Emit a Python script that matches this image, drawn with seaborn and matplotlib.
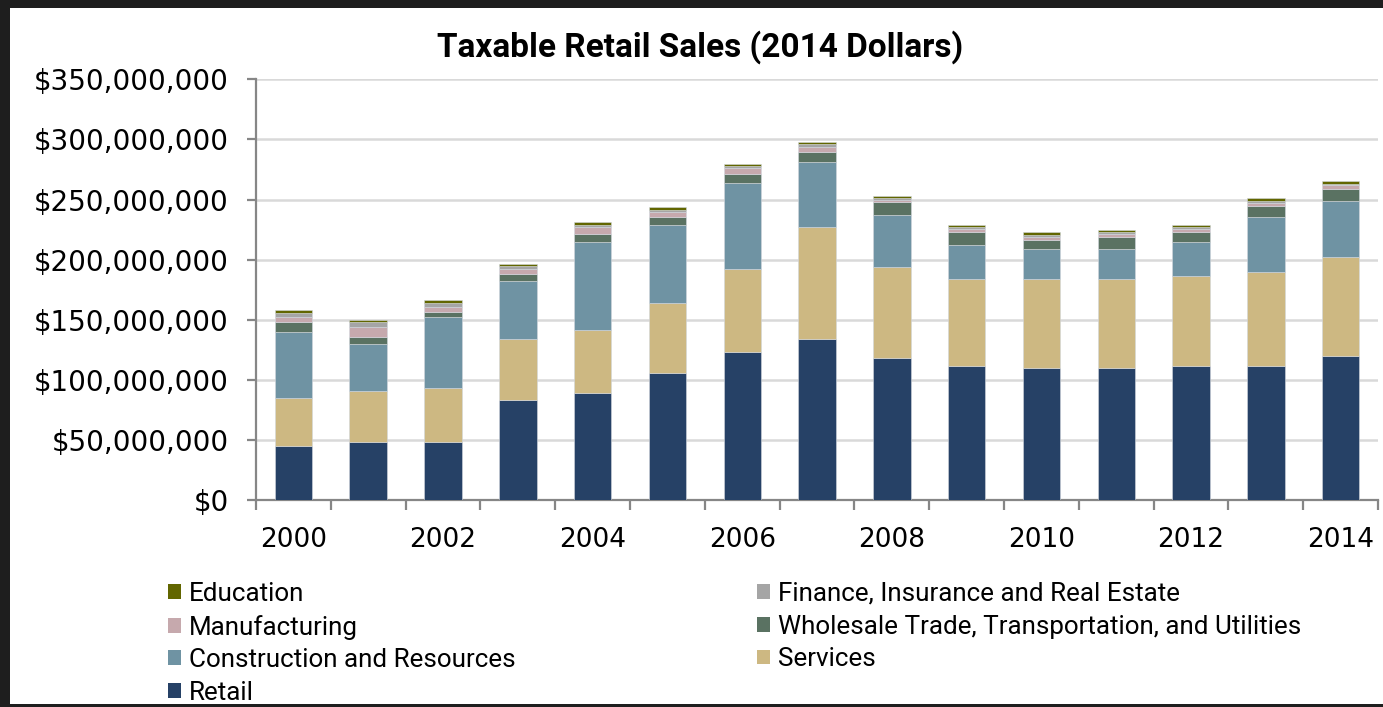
import numpy as np
import pandas as pd
import matplotlib
matplotlib.use("Agg")
import matplotlib.pyplot as plt
import seaborn as sns
from matplotlib.patches import Rectangle, Patch
from matplotlib.ticker import FuncFormatter, MultipleLocator, FixedLocator

# values in millions of 2014 dollars
years = [str(y) for y in range(2000, 2015)]
retail = [45.0, 48.5, 48.5, 83.2, 89.3, 105.4, 123.4, 133.7, 117.9, 111.7, 109.6, 109.6, 111.7, 111.7, 119.8]
services = [40.1, 42.5, 44.9, 50.5, 52.4, 58.8, 69.0, 93.4, 76.2, 72.2, 74.3, 74.3, 74.9, 78.3, 82.4]
construction = [54.9, 38.5, 58.6, 48.8, 73.2, 64.8, 71.1, 54.4, 43.3, 28.5, 24.9, 24.9, 28.3, 45.5, 46.6]
wholesale = [7.8, 6.1, 4.2, 5.5, 6.1, 6.2, 8.0, 8.3, 10.3, 10.6, 7.8, 10.0, 8.1, 9.4, 10.2]
manufacturing = [4.2, 8.1, 4.1, 4.4, 6.4, 4.7, 4.5, 4.2, 1.9, 2.2, 2.2, 2.5, 2.2, 2.2, 2.8]
finance = [3.8, 4.1, 3.9, 2.0, 1.4, 1.6, 1.9, 1.9, 1.4, 1.7, 1.9, 1.7, 1.9, 1.7, 1.4]
education = [2.0, 2.0, 1.9, 2.0, 2.5, 2.0, 1.7, 2.0, 1.7, 1.9, 2.3, 1.9, 1.9, 2.2, 2.0]

sectors = ["Retail", "Services", "Construction and Resources",
           "Wholesale Trade, Transportation, and Utilities", "Manufacturing",
           "Finance, Insurance and Real Estate", "Education"]
colors = ["#264166", "#CDB882", "#6F93A3", "#5A7262", "#C6A9AD", "#A5A5A5", "#626600"]

df = pd.DataFrame({"year": years})
for name, vals in zip(sectors, [retail, services, construction, wholesale,
                                manufacturing, finance, education]):
    df[name] = np.array(vals) * 1e6

sns.set_theme(style="ticks")
plt.rcParams["font.family"] = ["DejaVu Sans"]

fig = plt.figure(figsize=(13.83, 7.07), dpi=100, facecolor="#1E1E1E")
fig.add_artist(Rectangle((10 / 1383, 3 / 707), 1 - 10 / 1383, 1 - 11 / 707,
                         transform=fig.transFigure, facecolor="white",
                         edgecolor="none", zorder=-10))

ax = fig.add_axes([0.1851, 0.2928, 0.8113, 0.5950])

bottom = np.zeros(len(years))
for name, color in zip(sectors, colors):
    sns.barplot(data=df, x="year", y=name, color=color, saturation=1,
                bottom=bottom, width=0.5, edgecolor="#D3D8DE", linewidth=0.4,
                ax=ax, zorder=3)
    bottom = bottom + df[name].values

ax.set_xlim(-0.5, len(years) - 0.5)
ax.set_ylim(0, 350e6)
ax.set_xlabel("")
ax.set_ylabel("")

ax.yaxis.set_major_locator(MultipleLocator(50e6))
ax.yaxis.set_major_formatter(FuncFormatter(lambda v, p: "${:,.0f}".format(v)))
ax.yaxis.grid(True, color="#D9D9D9", lw=1.8)
ax.set_axisbelow(True)

ax.set_xticks(range(len(years)))
ax.set_xticklabels([y if int(y) % 2 == 0 else "" for y in years])
ax.xaxis.set_minor_locator(FixedLocator(np.arange(-0.5, len(years), 1)))
ax.tick_params(axis="x", which="major", length=0, pad=19.5, labelsize=19, colors="black")
ax.tick_params(axis="x", which="minor", bottom=True, length=7, width=1.6,
               color="#868686", direction="out")
ax.tick_params(axis="y", which="major", left=True, length=6.5, width=1.6,
               color="#868686", labelcolor="black", pad=13, labelsize=20)

for s in ["top", "right"]:
    ax.spines[s].set_visible(False)
for s in ["left", "bottom"]:
    ax.spines[s].set_color("#868686")
    ax.spines[s].set_linewidth(1.6)

fig.text(0.506, 0.9335, "Taxable Retail Sales (2014 Dollars)", ha="center", va="center",
         fontsize=24, fontweight="bold", family=["Roboto", "DejaVu Sans"], color="black")

# legend, laid out like the original (row by row across two columns)
handles = {n: Patch(facecolor=c, edgecolor="none") for n, c in zip(sectors, colors)}
left_col = ["Education", "Manufacturing", "Construction and Resources", "Retail"]
right_col = ["Finance, Insurance and Real Estate",
             "Wholesale Trade, Transportation, and Utilities", "Services"]
leg_kw = dict(loc="upper left", frameon=False, borderpad=0, borderaxespad=0,
              handlelength=0.5, handleheight=0.5, handletextpad=0.3,
              labelspacing=0.33, labelcolor="black",
              prop={"family": ["Roboto", "DejaVu Sans"], "size": 18.7})
fig.legend([handles[n] for n in left_col], left_col,
           bbox_to_anchor=(168 / 1383, 1 - 582 / 707), **leg_kw)
fig.legend([handles[n] for n in right_col], right_col,
           bbox_to_anchor=(757 / 1383, 1 - 582 / 707), **leg_kw)

fig.savefig("out.png", dpi=100, facecolor=fig.get_facecolor())
